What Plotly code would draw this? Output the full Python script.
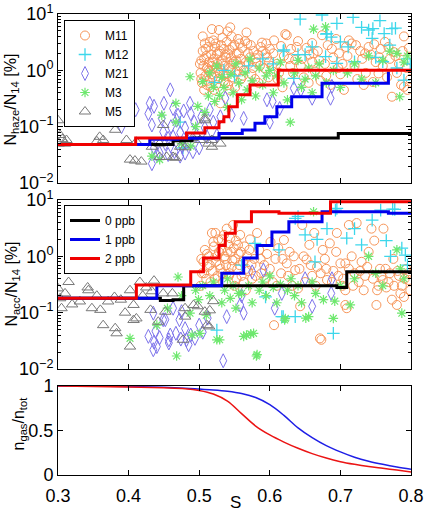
import plotly.graph_objects as go

# ---------------- data ----------------
# Panel 1: N_haze/N_14 [%]
m11_s1 = [0.502,0.503,0.504,0.505,0.506,0.507,0.508,0.509,0.51,0.511,0.512,0.513,0.514,0.515,0.516,0.517,0.518,0.518,0.519,0.52,
          0.521,0.522,0.523,0.524,0.525,0.526,0.527,0.528,0.529,0.53,0.531,0.532,0.533,0.534,0.535,0.536,0.537,0.538,0.539,0.54,
          0.541,0.542,0.543,0.544,0.545,0.546,0.547,0.548,0.55,0.552,0.553,0.555,0.556,0.558,0.559,
          0.561,0.563,0.565,0.567,0.568,0.57,0.572,0.574,0.577,0.58,0.581,0.584,0.587,0.589,0.592,0.594,0.596,0.598,0.6,0.603,
          0.606,0.61,0.613,0.616,0.618,
          0.622,0.624,0.627,0.63,0.633,0.636,0.64,0.644,0.648,0.652,0.656,0.66,0.66,0.664,0.668,0.672,0.674,0.678,0.682,0.686,
          0.69,0.694,0.698,0.70,
          0.703,0.705,0.708,0.712,0.716,0.72,0.724,0.728,0.731,0.733,0.736,0.74,0.743,0.746,0.75,0.754,0.757,0.76,0.763,0.766,
          0.77,0.773,0.776,0.78,0.783,0.786,0.79,0.79,0.794,0.797,0.799]
m11_y1 = [0.9,1.5,0.6,2.2,1.2,0.45,3.0,0.8,1.8,1.1,0.65,2.6,1.4,0.95,0.5,1.9,5.4,1.2,0.75,3.4,
          1.6,2.6,0.9,0.55,1.94,1.3,0.7,5.2,2.2,0.26,1.0,1.5,3.8,0.8,2.4,1.2,0.6,1.7,0.86,4.9,
          2.0,1.1,0.45,5.8,1.7,4.0,1.3,0.75,2.8,1.5,0.95,3.6,2.0,1.2,0.7,
          2.5,1.0,3.3,4.7,3.0,1.3,1.7,0.85,2.2,1.64,1.4,0.6,2.6,3.1,1.1,2.0,1.7,0.75,2.4,1.2,
          3.4,1.3,0.9,2.7,0.5,
          4.4,4.2,1.6,2.4,0.9,1.53,3.3,1.2,0.75,2.5,1.9,3.05,1.42,0.95,2.2,0.65,4.2,1.3,2.8,0.55,
          1.7,3.6,2.0,0.85,
          1.3,0.45,2.6,3.4,3.0,1.2,0.7,2.2,1.6,0.55,0.9,2.6,1.9,0.62,1.4,0.88,2.4,1.2,3.2,0.75,
          1.6,0.34,2.1,0.9,1.3,0.55,4.0,0.51,1.1,2.5,0.7]
m11_s1_more = [0.501,0.503,0.505,0.507,0.509,0.511,0.513,0.515,0.517,0.519,0.521,0.523,0.525,0.527,0.529,0.531,0.533,0.535,
               0.537,0.539,0.541,0.543,0.545,0.547,0.549,0.551,0.553,0.555,0.557,0.559,0.562,0.566,0.569,0.573,0.576,0.579,
               0.583,0.586,0.59,0.595,0.599,0.605,0.611,0.62,0.629,0.638,0.646,0.655,0.662,0.67,0.68,0.688,0.697,0.71,
               0.722,0.735,0.748,0.755,0.768,0.778,0.788,0.795]
m11_y1_more = [1.3,0.7,4.0,1.6,2.4,0.55,1.0,3.2,0.85,1.4,0.45,3.0,1.1,2.0,0.9,2.8,1.3,0.65,
               1.9,3.2,0.55,2.3,1.0,2.6,1.4,0.5,2.0,1.2,3.0,1.6,0.8,1.4,2.0,2.8,1.1,0.7,
               1.9,1.2,2.2,3.0,1.4,2.0,0.7,1.8,1.2,2.6,1.6,0.6,2.0,1.5,0.8,2.4,1.1,1.8,
               2.8,2.0,2.9,1.7,2.6,1.8,2.2,0.45]

m12_s1 = [0.473,0.477,0.522,0.535,0.55,0.57,0.59,0.605,0.619,0.62,0.634,0.64,0.643,0.65,0.66,0.674,0.679,0.68,0.681,0.687,
          0.695,0.695,0.70,0.711,0.718,0.72,0.73,0.74,0.745,0.746,0.75,0.756,0.76,0.762,0.77,0.773,0.778,0.78,0.79,0.795,0.799]
m12_y1 = [0.12,0.042,0.61,1.0,0.8,1.2,1.6,1.3,2.2,2.3,0.72,1.9,8.1,1.9,2.6,9.6,1.75,4.4,4.5,3.9,
          6.8,1.33,3.2,2.6,8.7,1.42,5.8,5.2,3.7,5.5,1.7,7.6,1.42,4.5,2.8,5.5,5.6,1.1,0.67,1.6,1.3]

m21_s1 = [0.39,0.40,0.41,0.428,0.43,0.433,0.433,0.436,0.436,0.44,0.444,0.447,0.449,0.45,0.452,0.456,0.456,0.459,0.46,0.463,
          0.463,0.465,0.468,0.47,0.473,0.473,0.476,0.478,0.48,0.48,0.484,0.487,0.488,0.491,0.493,0.496,0.50,0.503,0.508,0.511,
          0.515,0.52,0.525,0.53,0.537,0.546,0.563,0.596,0.60,0.604,0.614,0.634,0.644,0.66,0.686,0.688]
m21_y1 = [0.10,0.14,0.20,0.17,0.26,0.107,0.022,0.23,0.042,0.032,0.034,0.14,0.081,0.26,0.05,0.062,0.032,0.45,0.10,0.21,
          0.066,0.036,0.13,0.16,0.078,0.03,0.045,0.19,0.095,0.034,0.055,0.26,0.17,0.036,0.12,0.07,0.042,0.15,0.095,0.066,
          0.20,0.12,0.07,0.15,0.32,0.16,0.14,0.30,0.12,0.28,0.21,0.48,0.45,0.32,0.32,0.52]

m3_s1 = [0.36,0.433,0.444,0.447,0.467,0.467,0.475,0.487,0.488,0.495,0.498,0.505,0.508,0.513,0.515,0.52,0.522,0.525,0.529,0.532,
         0.535,0.54,0.545,0.548,0.552,0.556,0.56,0.565,0.568,0.572,0.575,0.58,0.585,0.59,0.595,0.60,0.605,0.61,0.615,0.62,
         0.625,0.629,0.635,0.64,0.645,0.65,0.655,0.66,0.662,0.665,0.67,0.679,0.68,0.69,0.70,0.71,0.72,0.73,0.74,0.75,
         0.76,0.77,0.78,0.784,0.79,0.795]
m3_y1 = [0.13,0.03,0.026,0.16,0.26,0.12,0.05,0.77,0.045,0.10,0.23,0.63,0.18,0.35,0.9,0.5,0.28,1.2,0.36,0.75,
         0.5,0.22,0.85,0.4,1.3,0.6,0.3,0.9,0.45,1.6,0.65,0.35,1.1,0.55,0.8,1.0,0.4,0.8,1.4,0.6,
         0.3,0.12,0.9,1.5,0.5,0.7,1.1,0.4,5.4,0.8,1.3,5.9,0.6,1.0,0.5,0.9,1.3,0.7,1.8,0.6,
         1.5,2.2,2.0,0.34,1.4,1.8]

m5_s1 = [0.300,0.301,0.303,0.306,0.31,0.312,0.338,0.355,0.359,0.364,0.381,0.396,0.397,0.402,0.409,0.411,0.418,0.433,0.444,0.444,
         0.449,0.454,0.463,0.466,0.473,0.48,0.491,0.501,0.508,0.508,0.513,0.518,0.518,0.53]
m5_y1 = [0.13,0.05,0.071,0.06,0.05,0.058,0.197,0.055,0.066,0.058,0.088,0.13,0.058,0.026,0.025,0.054,0.024,0.044,0.05,0.029,
         0.107,0.029,0.029,0.028,0.044,0.043,0.063,0.058,0.14,0.13,0.05,0.044,0.058,0.05]

# Panel 2: N_acc/N_14 [%]
m11_s2 = [0.502,0.504,0.506,0.508,0.51,0.512,0.514,0.516,0.518,0.519,
          0.521,0.523,0.524,0.526,0.528,0.53,0.532,0.534,0.536,0.538,0.539,0.541,0.543,0.545,0.547,0.548,0.55,0.552,0.554,0.556,
          0.558,0.56,0.562,0.564,0.566,0.568,0.569,
          0.572,0.575,0.578,0.582,0.585,0.588,0.592,0.596,0.601,0.604,0.606,0.608,0.612,0.616,0.62,0.624,0.628,0.632,0.636,0.64,
          0.643,0.646,0.648,
          0.652,0.656,0.66,0.663,0.667,0.671,0.673,0.675,0.678,0.681,0.685,0.69,0.694,0.695,0.70,0.704,0.707,0.707,0.707,0.709,
          0.712,0.716,0.72,0.723,0.726,0.73,0.735,0.74,0.744,0.748,0.751,0.752,0.756,0.76,0.761,0.765,0.77,0.773,0.775,0.78,
          0.783,0.787,0.79,0.793,0.797,0.799]
m11_y2 = [0.3,0.5,0.8,1.3,0.4,0.65,1.0,0.35,2.6,0.55,
          1.5,2.6,0.8,0.45,1.2,0.6,2.0,0.35,1.0,0.7,3.1,1.6,0.5,1.2,0.85,3.6,0.3,1.9,0.6,1.1,
          2.4,0.45,0.8,1.5,0.25,1.0,0.55,
          2.0,0.4,0.9,2.6,1.3,0.5,0.7,1.1,1.8,0.35,0.06,0.9,1.4,0.5,1.95,0.75,1.2,0.3,0.57,0.27,
          0.13,3.6,1.0,
          0.88,1.6,0.45,2.6,0.65,0.035,0.033,1.3,0.9,0.38,1.7,0.55,1.2,2.6,0.75,0.4,0.75,0.25,0.137,0.12,
          3.6,1.0,0.5,3.9,0.35,0.8,0.45,1.2,3.1,1.9,0.137,0.25,0.6,0.38,3.1,0.28,0.5,0.17,0.9,0.137,
          0.45,0.3,0.19,0.6,0.38,0.25]
m11_s2_more = [0.503,0.507,0.511,0.515,0.52,0.522,0.525,0.527,0.529,0.531,0.533,0.535,0.537,0.54,0.542,0.544,0.546,0.549,
               0.551,0.553,0.555,0.557,0.559,0.563,0.567,0.571,0.574,0.58,0.587,0.594,0.60,0.61,0.618,0.626,0.634,0.642,
               0.65,0.658,0.665,0.672,0.68,0.688,0.697,0.703,0.712,0.718,0.728,0.733,0.738,0.746,0.754,0.758,0.764,0.768,
               0.776,0.781,0.785,0.791,0.796]
m11_y2_more = [0.9,0.5,1.1,0.7,1.8,0.4,1.0,2.0,0.7,1.3,0.5,2.4,0.9,1.2,0.45,2.1,0.65,1.4,
               0.9,0.4,1.6,0.7,1.2,0.35,0.6,1.3,0.7,0.45,0.9,0.4,0.6,0.3,0.9,0.45,1.0,0.6,
               0.35,0.7,0.3,0.5,0.6,0.35,0.45,0.3,0.6,0.3,0.55,0.25,0.65,0.4,0.3,0.45,0.6,0.35,
               0.3,0.55,0.22,0.4,0.5]

m12_s2 = [0.525,0.56,0.579,0.594,0.613,0.617,0.619,0.636,0.636,0.64,0.65,0.664,0.667,0.681,0.69,0.693,0.695,0.709,0.72,0.73,
          0.745,0.757,0.765,0.771,0.774,0.777,0.787,0.792,0.795]
m12_y2 = [0.049,0.7,1.7,0.19,1.3,0.085,0.085,0.085,4.7,5.1,2.4,0.8,2.0,3.1,0.043,6.6,7.1,2.1,3.1,1.6,
          4.4,6.6,1.9,1.0,6.9,6.8,1.4,1.05,0.7]

m21_s2 = [0.428,0.435,0.435,0.436,0.438,0.44,0.444,0.449,0.452,0.457,0.457,0.459,0.463,0.467,0.472,0.474,0.475,0.48,0.482,0.485,
          0.488,0.494,0.50,0.505,0.512,0.534,0.539,0.558,0.56,0.563,0.575,0.591,0.607,0.617,0.65,0.66,0.687,0.688]
m21_y2 = [0.038,0.098,0.022,0.03,0.047,0.025,0.036,0.075,0.075,0.033,0.029,0.04,0.12,0.043,0.075,0.034,0.104,0.052,0.033,0.027,
          0.04,0.035,0.06,0.045,0.08,0.014,0.085,0.137,0.2,0.098,0.53,0.57,0.12,0.22,0.4,0.13,0.22,0.4]

m3_s2 = [0.36,0.402,0.44,0.455,0.468,0.47,0.475,0.487,0.49,0.495,0.499,0.501,0.505,0.51,0.515,0.52,0.525,0.529,0.532,0.536,
         0.54,0.544,0.548,0.552,0.556,0.56,0.563,0.567,0.57,0.573,0.575,0.577,0.581,0.582,0.585,0.59,0.595,0.60,0.605,0.61,
         0.615,0.621,0.622,0.625,0.63,0.635,0.64,0.645,0.651,0.655,0.66,0.662,0.665,0.676,0.69,0.692,0.70,0.714,0.72,0.74,
         0.75,0.76,0.78,0.785,0.787,0.79]
m3_y2 = [0.98,0.035,0.06,0.12,0.017,0.43,0.2,0.098,0.04,0.25,0.17,0.043,0.3,0.09,0.2,0.35,0.033,0.033,0.15,0.25,
         0.4,0.18,0.3,0.12,0.22,0.22,0.038,0.04,0.3,0.042,0.15,0.043,0.017,0.018,0.25,0.35,0.2,0.45,0.28,0.15,
         0.32,0.074,0.079,0.25,0.4,0.2,0.3,0.15,0.08,0.085,0.35,6.2,0.22,0.17,0.079,0.16,0.3,0.137,0.4,1.0,
         0.5,0.3,1.3,0.6,0.098,0.4]

m5_s2 = [0.30,0.303,0.305,0.31,0.315,0.32,0.331,0.342,0.343,0.348,0.355,0.36,0.364,0.371,0.38,0.381,0.383,0.389,0.395,0.402,
         0.402,0.407,0.407,0.411,0.416,0.42,0.425,0.431,0.433,0.436,0.442,0.449,0.452,0.462,0.477,0.48,0.48,0.492,0.498,0.508,
         0.511,0.514,0.515,0.52]
m5_y2 = [0.27,0.18,0.12,0.22,0.35,0.14,0.158,0.28,0.25,0.12,0.2,0.112,0.06,0.158,0.19,0.053,0.043,0.17,0.10,0.25,
         0.025,0.137,0.074,0.079,0.35,0.2,0.28,0.112,0.24,0.37,0.069,0.22,0.104,0.22,0.033,0.12,0.085,0.137,0.13,0.104,
         0.06,0.057,0.11,0.16]

# Step lines (threshold curves)
p1_black_s = [0.30, 0.463, 0.49, 0.697, 0.80]
p1_black_v = [0.048, 0.056, 0.063, 0.076, 0.076]
p1_blue_s = [0.30, 0.43, 0.47, 0.528, 0.561, 0.579, 0.593, 0.610, 0.631, 0.674, 0.768]
p1_blue_v = [0.048, 0.060, 0.062, 0.076, 0.0875, 0.115, 0.150, 0.226, 0.34, 0.59, 0.95]
p1_red_s = [0.30, 0.41, 0.482, 0.508, 0.528, 0.535, 0.542, 0.554, 0.572, 0.612, 0.80]
p1_red_v = [0.048, 0.063, 0.077, 0.096, 0.122, 0.150, 0.226, 0.37, 0.55, 1.0, 1.0]

p2_black_s = [0.30, 0.445, 0.463, 0.478, 0.695, 0.709, 0.80]
p2_black_v = [0.18, 0.165, 0.17, 0.30, 0.28, 0.53, 0.53]
p2_blue_s = [0.30, 0.44, 0.532, 0.563, 0.582, 0.603, 0.627, 0.674, 0.768, 0.80]
p2_blue_v = [0.18, 0.30, 0.50, 0.93, 1.55, 2.7, 4.1, 6.2, 5.8, 5.8]
p2_red_s = [0.30, 0.411, 0.488, 0.506, 0.528, 0.537, 0.551, 0.574, 0.613, 0.686, 0.80]
p2_red_v = [0.18, 0.31, 0.53, 0.93, 1.55, 2.56, 4.1, 6.2, 5.8, 9.3, 9.3]

# Panel 3: gas fraction
p3_s = [0.30,0.35,0.40,0.45,0.48,0.50,0.52,0.54,0.56,0.58,0.60,0.62,0.64,0.66,0.68,0.70,0.72,0.74,0.76,0.78,0.80]
p3_blue = [1.0,1.0,0.995,0.985,0.975,0.965,0.955,0.94,0.915,0.87,0.79,0.67,0.53,0.42,0.33,0.26,0.20,0.155,0.12,0.09,0.065]
p3_red = [1.0,0.995,0.99,0.98,0.97,0.95,0.91,0.83,0.69,0.55,0.45,0.37,0.30,0.24,0.19,0.15,0.12,0.095,0.075,0.055,0.035]

legend_names = ["M11", "M12", "M21", "M3", "M5"]
line_names = ["0 ppb", "1 ppb", "2 ppb"]
x_ticks = [0.3, 0.4, 0.5, 0.6, 0.7, 0.8]
x_tick_text = ["0.3", "0.4", "0.5", "0.6", "0.7", "0.8"]
log_ticks = [0.01, 0.1, 1, 10]
log_text = ["10<sup>\u22122</sup>", "10<sup>\u22121</sup>", "10<sup>0</sup>", "10<sup>1</sup>"]

# ---------------- style ----------------
W, H = 425, 514
FONT = "Liberation Sans, Arial, sans-serif"
styles = [
    dict(symbol="circle-open", size=9, color="rgb(247,150,90)", line=dict(width=1)),
    dict(symbol="cross-thin-open", size=9, color="rgb(60,215,235)", line=dict(width=1.3, color="rgb(60,215,235)")),
    dict(symbol="diamond-tall-open", size=10, color="rgb(125,115,235)", line=dict(width=1)),
    dict(symbol="asterisk-open", size=8, color="rgb(110,232,110)", line=dict(width=1.2, color="rgb(110,232,110)")),
    dict(symbol="triangle-up-open", size=10, color="rgb(120,120,120)", line=dict(width=1)),
]
line_colors = ["black", "rgb(0,0,235)", "rgb(240,0,0)"]

fig = go.Figure()

p1 = [(m11_s1 + m11_s1_more, m11_y1 + m11_y1_more), (m12_s1, m12_y1), (m21_s1, m21_y1), (m3_s1, m3_y1), (m5_s1, m5_y1)]
p2 = [(m11_s2 + m11_s2_more, m11_y2 + m11_y2_more), (m12_s2, m12_y2), (m21_s2, m21_y2), (m3_s2, m3_y2), (m5_s2, m5_y2)]
for (xs, ys), name, st in zip(p1, legend_names, styles):
    fig.add_trace(go.Scatter(x=xs, y=ys, mode="markers", name=name, marker=st,
                             xaxis="x", yaxis="y", legend="legend", showlegend=True))
for (xs, ys), name, st in zip(p2, legend_names, styles):
    fig.add_trace(go.Scatter(x=xs, y=ys, mode="markers", name=name, marker=st,
                             xaxis="x2", yaxis="y2", showlegend=False))

l1 = [(p1_black_s, p1_black_v), (p1_blue_s, p1_blue_v), (p1_red_s, p1_red_v)]
l2 = [(p2_black_s, p2_black_v), (p2_blue_s, p2_blue_v), (p2_red_s, p2_red_v)]
for (xs, ys), c in zip(l1, line_colors):
    fig.add_trace(go.Scatter(x=xs, y=ys, mode="lines", line=dict(color=c, width=3, shape="hv"),
                             xaxis="x", yaxis="y", showlegend=False))
for (xs, ys), c, n in zip(l2, line_colors, line_names):
    fig.add_trace(go.Scatter(x=xs, y=ys, mode="lines", name=n, line=dict(color=c, width=3, shape="hv"),
                             xaxis="x2", yaxis="y2", legend="legend2", showlegend=True))

fig.add_trace(go.Scatter(x=p3_s, y=p3_blue, mode="lines", line=dict(color="rgb(30,30,230)", width=1.5, shape="spline"),
                         xaxis="x3", yaxis="y3", showlegend=False))
fig.add_trace(go.Scatter(x=p3_s, y=p3_red, mode="lines", line=dict(color="rgb(235,20,20)", width=1.5, shape="spline"),
                         xaxis="x3", yaxis="y3", showlegend=False))

XDOM = [58 / W, 411 / W]
def ydom(top, bot):
    return [1 - bot / H, 1 - top / H]

minor_vals = [m * 10 ** e for e in (-2, -1, 0) for m in range(2, 10)]
axis_common = dict(showline=True, linecolor="black", linewidth=1, mirror="allticks", ticks="inside",
                   ticklen=5, tickcolor="black", showgrid=False, zeroline=False, automargin=False,
                   tickfont=dict(family=FONT, size=18, color="black"))
xcommon = dict(axis_common, range=[0.3, 0.8], tickvals=x_ticks, ticktext=x_tick_text)
logcommon = dict(axis_common, type="log", range=[-2, 1], tickvals=log_ticks, ticktext=log_text,
                 minor=dict(tickvals=minor_vals, ticks="inside", ticklen=3, tickcolor="black"))

fig.update_layout(
    width=W, height=H, margin=dict(l=0, r=0, t=0, b=0),
    paper_bgcolor="white", plot_bgcolor="white",
    font=dict(family=FONT, size=14, color="black"),
    xaxis=dict(xcommon, domain=XDOM, anchor="y", showticklabels=False),
    yaxis=dict(logcommon, domain=ydom(14, 183), anchor="x"),
    xaxis2=dict(xcommon, domain=XDOM, anchor="y2", showticklabels=False),
    yaxis2=dict(logcommon, domain=ydom(200, 369), anchor="x2"),
    xaxis3=dict(xcommon, domain=XDOM, anchor="y3", ticklabelstandoff=4),
    yaxis3=dict(axis_common, domain=ydom(386, 475), anchor="x3", range=[0, 1],
                tickvals=[0, 0.5, 1], ticktext=["0", "0.5", "1"]),
    legend=dict(x=64 / W, y=1 - 20 / H, xanchor="left", yanchor="top", bgcolor="white",
                bordercolor="black", borderwidth=1, font=dict(family=FONT, size=12),
                tracegroupgap=0, itemwidth=30),
    legend2=dict(x=64 / W, y=1 - 205 / H, xanchor="left", yanchor="top", bgcolor="white",
                 bordercolor="black", borderwidth=1, font=dict(family=FONT, size=12),
                 tracegroupgap=0, itemwidth=30),
    showlegend=True,
)

ann_font = dict(family=FONT, size=16, color="black")
fig.add_annotation(text="N<sub>haze</sub>/N<sub>14</sub> [%]", xref="paper", yref="paper",
                   x=0, y=1 - 100 / H, xanchor="left", yanchor="middle", textangle=-90,
                   showarrow=False, font=ann_font)
fig.add_annotation(text="N<sub>acc</sub>/N<sub>14</sub> [%]", xref="paper", yref="paper",
                   x=0, y=1 - 284 / H, xanchor="left", yanchor="middle", textangle=-90,
                   showarrow=False, font=ann_font)
fig.add_annotation(text="n<sub>gas</sub>/n<sub>tot</sub>", xref="paper", yref="paper",
                   x=7 / W, y=1 - 424 / H, xanchor="left", yanchor="middle", textangle=-90,
                   showarrow=False, font=ann_font)
fig.add_annotation(text="S", xref="paper", yref="paper", x=235 / W, y=0,
                   xanchor="center", yanchor="bottom", showarrow=False, font=dict(family=FONT, size=17, color="black"))

fig.write_html("out.html")
